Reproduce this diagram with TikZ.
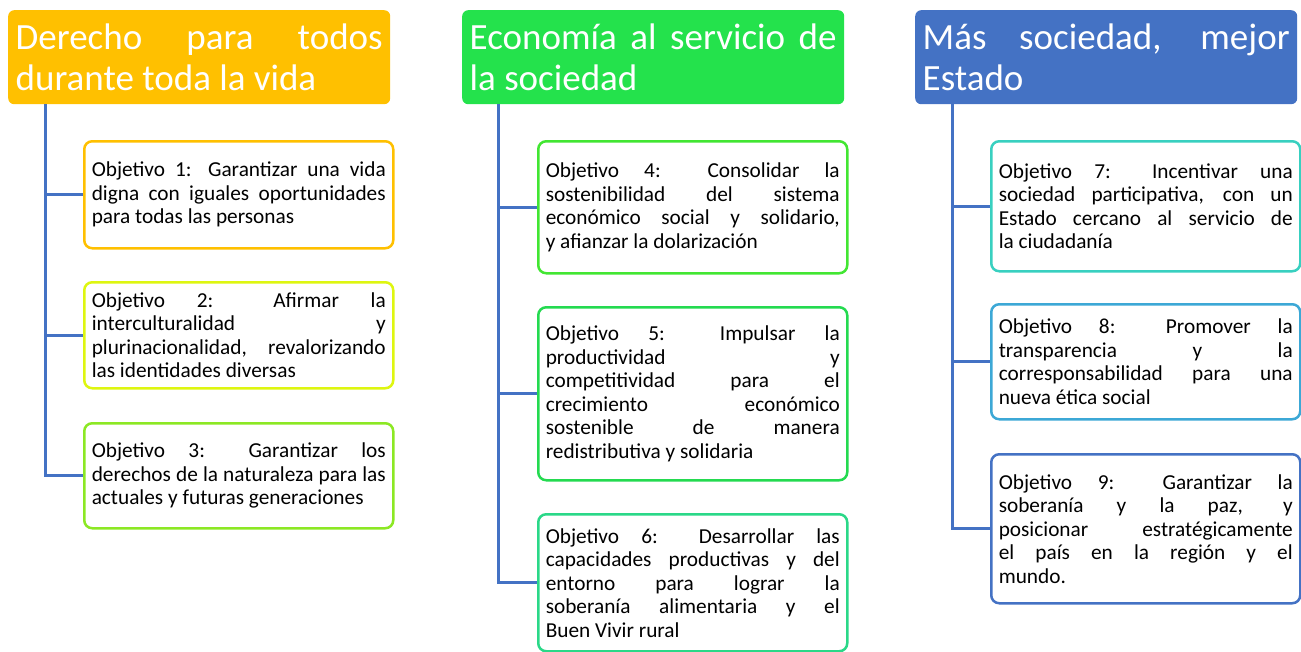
\documentclass[tikz,border=0pt]{standalone}
\usepackage{fontspec}
\setmainfont{Carlito}
\usetikzlibrary{positioning}
\definecolor{ejeAmarillo}{RGB}{255,192,0}
\definecolor{ejeVerde}{RGB}{36,226,76}
\definecolor{ejeAzul}{RGB}{68,114,196}
\definecolor{objUno}{RGB}{255,192,0}
\definecolor{objDos}{RGB}{222,246,16}
\definecolor{objTres}{RGB}{140,232,36}
\definecolor{objCuatro}{RGB}{66,230,50}
\definecolor{objCinco}{RGB}{36,218,80}
\definecolor{objSeis}{RGB}{42,216,136}
\definecolor{objSiete}{RGB}{56,208,192}
\definecolor{objOcho}{RGB}{60,168,214}
\definecolor{objNueve}{RGB}{68,114,196}
\tolerance=10000
\hyphenpenalty=10000

\begin{document}
\begin{tikzpicture}[x=1pt, y=-1pt,
  eje/.style={fill=#1, rounded corners=6pt, anchor=north west, text=white,
    text width=367pt, inner xsep=7.5pt, inner ysep=0pt, minimum height=94pt, align=justify,
    font=\fontsize{37}{41}\selectfont},
  objetivo/.style={draw=#1, line width=2.5pt, fill=white, rounded corners=8pt, anchor=north west,
    text width=294pt, inner xsep=7.5pt, inner ysep=0pt, align=justify,
    font=\fontsize{21.3}{23.5}\selectfont},
  rama/.style={draw=ejeAzul, line width=3pt}]
  \useasboundingbox (0,0) rectangle (1301,651);

  % ejes
  \node[eje=ejeAmarillo] (h1) at (8,10) {Derecho para todos\linebreak durante toda la vida};
  \node[eje=ejeVerde] (h2) at (462,10) {Economía al servicio de\linebreak la sociedad};
  \node[eje=ejeAzul] (h3) at (915,10) {Más sociedad, mejor\linebreak Estado};

  \coordinate (t1) at (45,104);
  \coordinate (t2) at (498,104);
  \coordinate (t3) at (952,104);

  % objetivos
  \node[objetivo=objUno, minimum height=107pt] (o1) at (83,140)
    {Objetivo 1: Garantizar una vida\linebreak digna con iguales oportunidades\linebreak para todas las personas};
  \node[objetivo=objDos, minimum height=106pt] (o2) at (83,281)
    {Objetivo 2: Afirmar la\linebreak interculturalidad y\linebreak plurinacionalidad, revalorizando\linebreak las identidades diversas};
  \node[objetivo=objTres, minimum height=105pt] (o3) at (83,422)
    {Objetivo 3: Garantizar los\linebreak derechos de la naturaleza para las\linebreak actuales y futuras generaciones};

  \node[objetivo=objCuatro, minimum height=132pt] (o4) at (537,140)
    {Objetivo 4: Consolidar la\linebreak sostenibilidad del sistema\linebreak económico social y solidario,\linebreak y afianzar la dolarización};
  \node[objetivo=objCinco, minimum height=173pt] (o5) at (537,306)
    {Objetivo 5: Impulsar la\linebreak productividad y\linebreak competitividad para el\linebreak crecimiento económico\linebreak sostenible de manera\linebreak redistributiva y solidaria};
  \node[objetivo=objSeis, minimum height=137pt] (o6) at (537,513)
    {Objetivo 6: Desarrollar las\linebreak capacidades productivas y del\linebreak entorno para lograr la\linebreak soberanía alimentaria y el\linebreak Buen Vivir rural};

  \node[objetivo=objSiete, minimum height=130pt] (o7) at (990,140)
    {Objetivo 7: Incentivar una\linebreak sociedad participativa, con un\linebreak Estado cercano al servicio de\linebreak la ciudadanía};
  \node[objetivo=objOcho, minimum height=115pt] (o8) at (990,303)
    {Objetivo 8: Promover la\linebreak transparencia y la\linebreak corresponsabilidad para una\linebreak nueva ética social};
  \node[objetivo=objNueve, minimum height=149pt] (o9) at (990,453)
    {Objetivo 9: Garantizar la\linebreak soberanía y la paz, y\linebreak posicionar estratégicamente\linebreak el país en la región y el\linebreak mundo.};

  % ramas
  \draw[rama] (t1) |- (o1.west);
  \draw[rama] (t1) |- (o2.west);
  \draw[rama] (t1) |- (o3.west);
  \draw[rama] (t2) |- (o4.west);
  \draw[rama] (t2) |- (o5.west);
  \draw[rama] (t2) |- (o6.west);
  \draw[rama] (t3) |- (o7.west);
  \draw[rama] (t3) |- (o8.west);
  \draw[rama] (t3) |- (o9.west);
\end{tikzpicture}
\end{document}
